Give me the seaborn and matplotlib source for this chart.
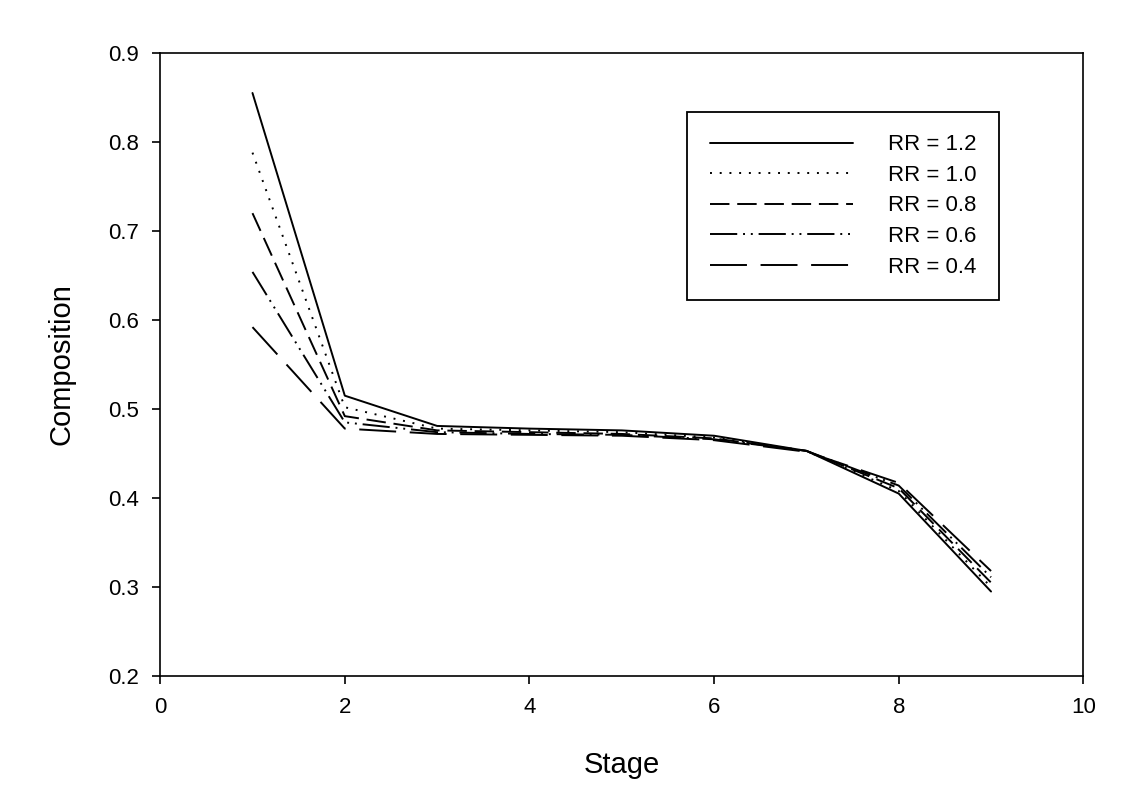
import numpy as np
import pandas as pd
import matplotlib
matplotlib.use("Agg")
import matplotlib.pyplot as plt
import seaborn as sns

stages = [1, 2, 3, 4, 5, 6, 7, 8, 9]
labels = ["RR = 1.2", "RR = 1.0", "RR = 0.8", "RR = 0.6", "RR = 0.4"]
rr_12 = [0.855, 0.515, 0.481, 0.478, 0.476, 0.470, 0.453, 0.405, 0.295]
rr_10 = [0.788, 0.502, 0.478, 0.476, 0.474, 0.468, 0.453, 0.408, 0.300]
rr_08 = [0.720, 0.492, 0.476, 0.474, 0.472, 0.467, 0.453, 0.411, 0.305]
rr_06 = [0.654, 0.485, 0.474, 0.472, 0.471, 0.466, 0.453, 0.414, 0.311]
rr_04 = [0.592, 0.478, 0.472, 0.471, 0.470, 0.465, 0.452, 0.417, 0.318]
series = [rr_12, rr_10, rr_08, rr_06, rr_04]

x_ticks = [0, 2, 4, 6, 8, 10]
y_ticks = [0.2, 0.3, 0.4, 0.5, 0.6, 0.7, 0.8, 0.9]

df = pd.DataFrame({
    "Stage": np.tile(stages, len(labels)),
    "Composition": np.concatenate(series),
    "RR": np.repeat(labels, len(stages)),
})

sns.set_style("ticks")
plt.rcParams["font.family"] = ["Liberation Sans", "DejaVu Sans"]
plt.rcParams["text.color"] = "black"
plt.rcParams["axes.labelcolor"] = "black"

fig = plt.figure(figsize=(11.44, 8.02), dpi=100)
ax = fig.add_axes([0.14, 0.157, 0.807, 0.777])

dashes = {
    "RR = 1.2": "",
    "RR = 1.0": (1, 4),
    "RR = 0.8": (10, 4),
    "RR = 0.6": (14, 3, 1, 3, 1, 3),
    "RR = 0.4": (19, 7),
}
sns.lineplot(data=df, x="Stage", y="Composition", style="RR", style_order=labels,
             dashes=dashes, color="black", linewidth=1.4, ax=ax, legend=True)

ax.set_xlim(0, 10)
ax.set_ylim(0.2, 0.9)
ax.set_xticks(x_ticks)
ax.set_xticklabels([str(t) for t in x_ticks])
ax.set_yticks(y_ticks)
ax.set_yticklabels([f"{t:.1f}" for t in y_ticks])
for s in ax.spines.values():
    s.set_visible(True)
    s.set_linewidth(1.2)
    s.set_color("black")
ax.tick_params(direction="out", length=6, width=1.2, labelsize=16, colors="black", pad=9)
ax.set_xlabel("Stage", fontsize=21, labelpad=24, color="black")
ax.set_ylabel("Composition", fontsize=21, labelpad=24, color="black")

handles, lbls = ax.get_legend_handles_labels()
leg = ax.legend(handles, lbls, loc="upper left", bbox_to_anchor=(0.571, 0.905),
                fontsize=16, handlelength=6.45, handletextpad=1.6, labelspacing=0.43,
                frameon=True, fancybox=False, edgecolor="black", borderpad=1.0,
                borderaxespad=0)
leg.get_frame().set_linewidth(1.3)
leg.get_frame().set_facecolor("white")
leg.get_frame().set_alpha(1)
for t in leg.get_texts():
    t.set_color("black")

fig.savefig("out.png", dpi=100, facecolor="white")
